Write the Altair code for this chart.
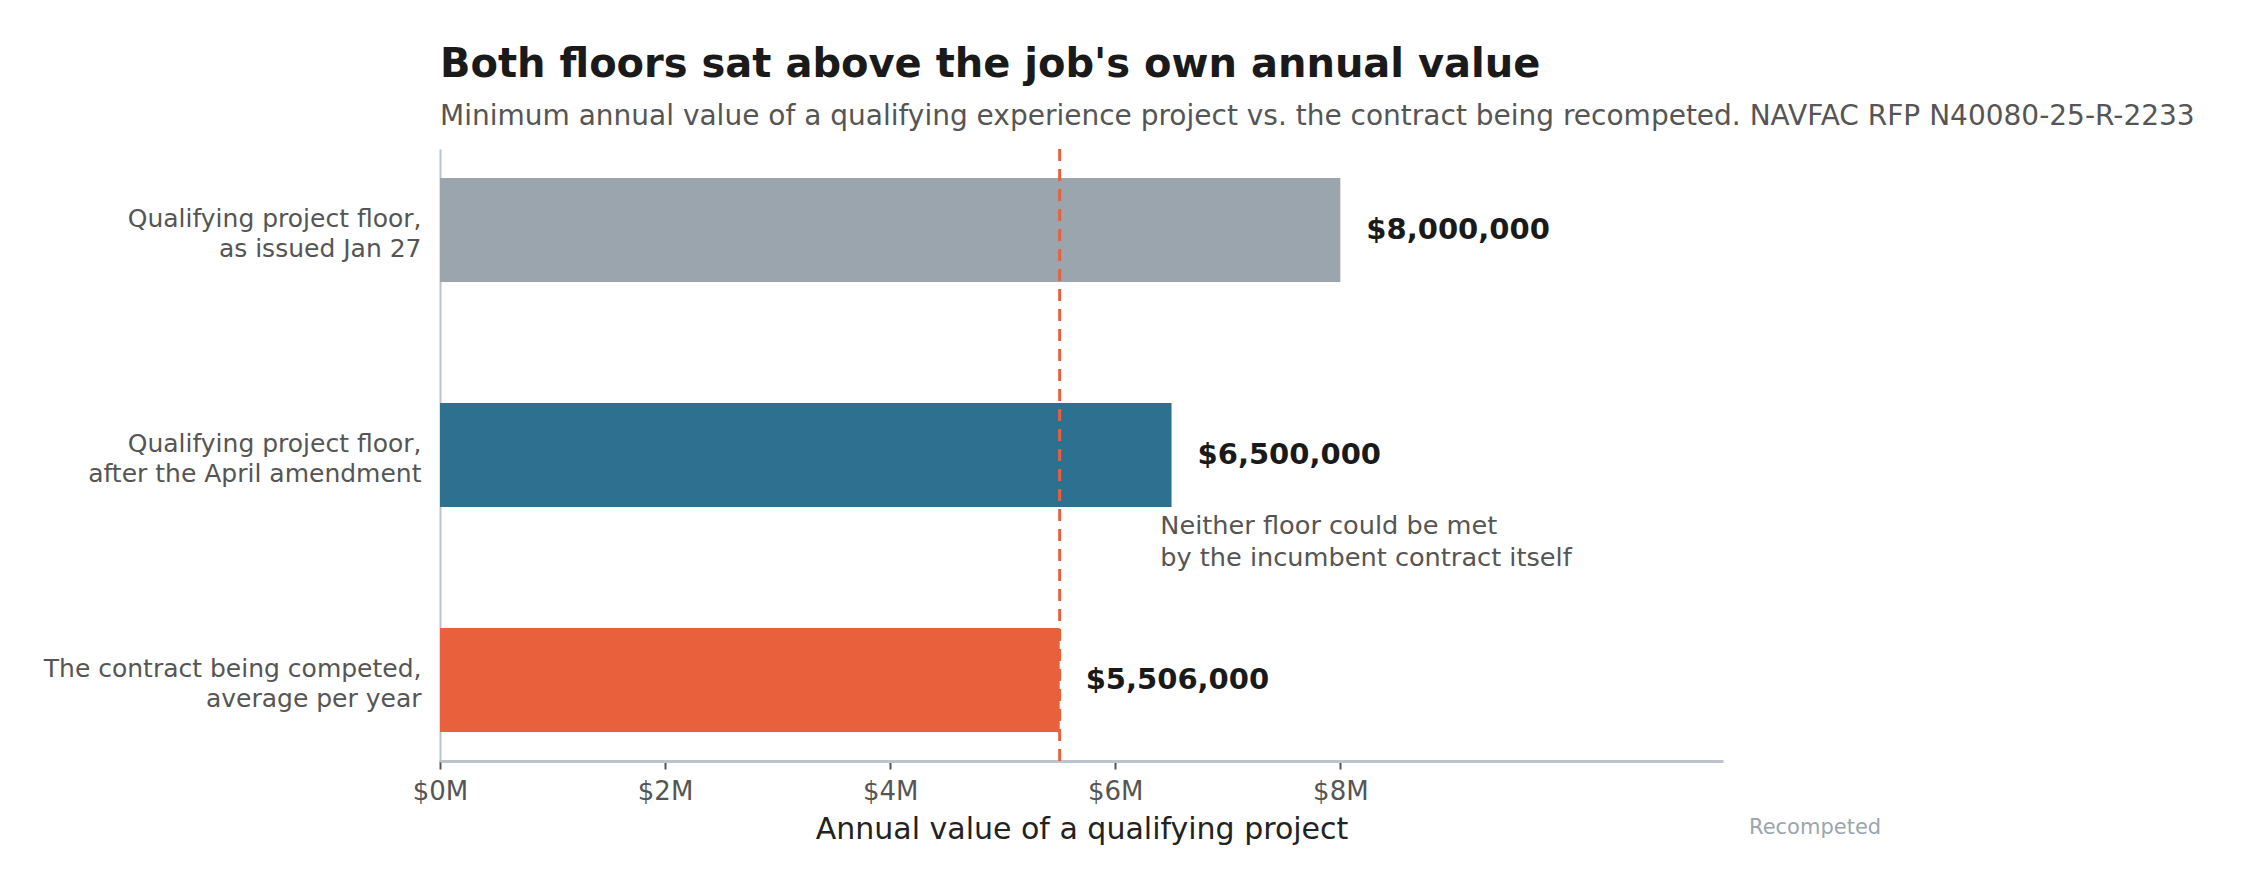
import altair as alt
import pandas as pd

categories = [
    "Qualifying project floor,\nas issued Jan 27",
    "Qualifying project floor,\nafter the April amendment",
    "The contract being competed,\naverage per year",
]
values = [8000000, 6500000, 5506000]
colors = ["#9BA5AE", "#2E7090", "#E8603C"]
reference_value = 5506000
tick_values = [0, 2000000, 4000000, 6000000, 8000000]
note_text = "Neither floor could be met\nby the incumbent contract itself"
note_x = 6400000
source_text = "Recompeted"

df = pd.DataFrame({"category": categories, "value": values, "color": colors})
ref_df = pd.DataFrame({"ref": [reference_value]})
note_df = pd.DataFrame({"category": [categories[1]], "x": [note_x], "text": [note_text]})
src_df = pd.DataFrame({"text": [source_text]})

FONT = "DejaVu Sans"

y_enc = alt.Y(
    "category:N",
    sort=categories,
    scale=alt.Scale(paddingInner=0.538, paddingOuter=0.129),
    axis=alt.Axis(
        title=None,
        ticks=False,
        labelPadding=19,
        labelFontSize=25,
        labelColor="#555555",
        labelFont=FONT,
        labelLineHeight=30,
        labelOffset=-11,
        labelExpr="split(datum.label, '\\n')",
        labelLimit=600,
        domainColor="#BCC3CA",
        domainWidth=2,
        grid=False,
    ),
)

x_scale = alt.Scale(domain=[0, 11400000], nice=False)

bars = alt.Chart(df).mark_bar(cornerRadius=0).encode(
    x=alt.X(
        "value:Q",
        scale=x_scale,
        axis=alt.Axis(
            title="Annual value of a qualifying project",
            values=tick_values,
            labelExpr="'$' + format(datum.value / 1000000, 'd') + 'M'",
            labelFlush=False,
            tickSize=8,
            tickWidth=2,
            tickColor="#555555",
            labelFontSize=26,
            labelColor="#555555",
            labelFont=FONT,
            labelPadding=9,
            titleFontSize=30,
            titleFont=FONT,
            titleFontWeight="normal",
            titleColor="#222222",
            titlePadding=10,
            domainColor="#BCC3CA",
            domainWidth=3,
            grid=False,
        ),
    ),
    y=y_enc,
    color=alt.Color("color:N", scale=None),
)

rule = alt.Chart(ref_df).mark_rule(
    color="#E8603C", strokeDash=[12, 8], strokeWidth=3
).encode(x=alt.X("ref:Q", scale=x_scale))

labels = alt.Chart(df).mark_text(
    align="left", baseline="middle", dx=26, fontSize=29, fontWeight="bold",
    color="#1A1A1A", font=FONT,
).encode(
    x=alt.X("value:Q", scale=x_scale),
    y=alt.Y("category:N", sort=categories),
    text=alt.Text("value:Q", format="$,.0f"),
)

note = alt.Chart(note_df).mark_text(
    align="left", baseline="middle", dy=71, fontSize=25.6, color="#555555",
    font=FONT, lineBreak="\n", lineHeight=32,
).encode(
    x=alt.X("x:Q", scale=x_scale),
    y=alt.Y("category:N", sort=categories),
    text="text:N",
)

src = alt.Chart(src_df).mark_text(
    align="left", baseline="middle", fontSize=21, color="#9AA5AE", font=FONT,
).encode(x=alt.value(1309), y=alt.value(679), text="text:N")

chart = alt.layer(bars, rule, labels, note, src).properties(
    width=1283,
    height=612,
    background="white",
    autosize=alt.AutoSizeParams(type="none"),
    padding={"left": 432, "top": 141, "right": 515, "bottom": 120},
    title=alt.Title(
        "Both floors sat above the job's own annual value",
        subtitle="Minimum annual value of a qualifying experience project vs. the contract being recompeted. NAVFAC RFP N40080-25-R-2233",
        anchor="start",
        frame="group",
        fontSize=40,
        fontWeight="bold",
        color="#1A1A1A",
        font=FONT,
        subtitleFont=FONT,
        subtitleFontSize=28,
        subtitleColor="#555555",
        subtitlePadding=18,
        offset=17,
    ),
).configure_view(strokeWidth=0, stroke="transparent")

chart.save("out.html", embed_options={"renderer": "svg", "actions": False})
